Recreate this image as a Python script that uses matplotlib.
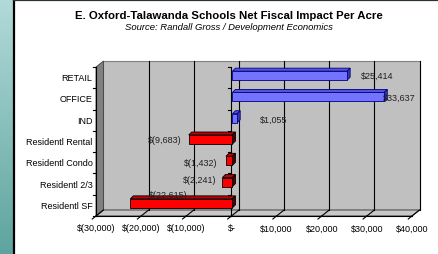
import numpy as np
import matplotlib
matplotlib.use('Agg')
import matplotlib.pyplot as plt
from matplotlib.patches import Polygon, Rectangle

# - - - - chart data - - - -
categories = ['Residentl SF', 'Residentl 2/3', 'Residentl Condo',
              'Residentl Rental', 'IND', 'OFFICE', 'RETAIL']
values = [-22615, -2241, -1432, -9683, 1055, 33637, 25414]
value_labels = ['$(22,615)', '$(2,241)', '$(1,432)', '$(9,683)',
                '$1,055', '$33,637', '$25,414']
xticks = [-30000, -20000, -10000, 0, 10000, 20000, 30000, 40000]
xtick_labels = ['$(30,000)', '$(20,000)', '$(10,000)', '$-',
                '$10,000', '$20,000', '$30,000', '$40,000']
title = 'E. Oxford-Talawanda Schools Net Fiscal Impact Per Acre'
subtitle = 'Source: Randall Gross / Development Economics'

# label offsets in pixels (Excel puts them in odd places)
label_dx = [39, -22, -24, -23, 37, 16, 31]
label_dy = [11, 5, 0, 2, 1, 2, 2]

W, H = 438, 255
font = 'Liberation Sans'


def main():
    fig = plt.figure(figsize=(W/100, H/100), dpi=100)
    fig.patch.set_facecolor('white')

    # left teal strip and frame lines
    strip = fig.add_axes([0, 0, 12.5/W, 1])
    grad = np.linspace(0, 1, 256).reshape(-1, 1)
    strip.imshow(grad, aspect='auto', extent=[0, 1, 0, 1],
                 cmap=matplotlib.colors.LinearSegmentedColormap.from_list(
                     'teal', ['#5ea49e', '#b2dada']), origin='lower')
    strip.axis('off')
    fig.add_artist(plt.Line2D([13.5/W, 13.5/W], [0, 1], color='black',
                              lw=1.6, transform=fig.transFigure))
    fig.add_artist(plt.Line2D([13.5/W, 1], [1-0.8/H, 1-0.8/H],
                              color='#2a3434', lw=1.6,
                              transform=fig.transFigure))

    # front plane of the 3D box
    x0, x1, ytop, ybot = 96, 412, 68, 217
    ax = fig.add_axes([x0/W, 1-ybot/H, (x1-x0)/W, (ybot-ytop)/H])
    xmin, xmax = xticks[0], xticks[-1]
    ax.set_xlim(xmin, xmax)
    ax.set_ylim(-0.5, len(categories)-0.5)
    ax.axis('off')

    pxx = (xmax-xmin)/(x1-x0)          # dollars per pixel
    pxy = len(categories)/(ybot-ytop)  # category units per pixel
    ddx, ddy = 7.5*pxx, 6*pxy          # depth of the box
    lo, hi = -0.5, len(categories)-0.5

    # back wall, left wall, floor
    ax.add_patch(Rectangle((xmin+ddx, lo+ddy), xmax-xmin, hi-lo,
                           fc='#c0c0c0', ec='#808080', lw=0.8,
                           clip_on=False, zorder=1))
    ax.add_patch(Polygon([(xmin, lo), (xmin+ddx, lo+ddy), (xmin+ddx, hi+ddy),
                          (xmin, hi)], closed=True, fc='#808080',
                         ec='#404040', lw=0.6, clip_on=False, zorder=2))
    ax.add_patch(Polygon([(xmin, lo), (xmax, lo), (xmax+ddx, lo+ddy),
                          (xmin+ddx, lo+ddy)], closed=True, fc='#c8c8c8',
                         ec='#505050', lw=0.8, clip_on=False, zorder=2))

    # gridlines on back wall and floor, ticks under the floor
    for t in xticks[1:]:
        ax.plot([t+ddx, t+ddx], [lo+ddy, hi+ddy], color='black', lw=0.8,
                clip_on=False, zorder=3)
    for t in xticks:
        ax.plot([t, t+ddx], [lo, lo+ddy], color='black', lw=0.8,
                clip_on=False, zorder=3)
        ax.plot([t, t-0.5*ddx], [lo, lo-0.5*ddy], color='black', lw=0.8,
                clip_on=False, zorder=3)
    ax.plot([xmin, xmax], [lo, lo], color='black', lw=0.8, clip_on=False,
            zorder=3)

    # category axes: left edge and zero line with ticks
    for xa in [xmin, 0]:
        ax.plot([xa, xa], [lo, hi], color='black', lw=0.8, clip_on=False,
                zorder=3)
        for b in np.arange(lo, hi+0.01, 1):
            ax.plot([xa-3*pxx, xa], [b, b], color='black', lw=0.8,
                    clip_on=False, zorder=3)

    # the 3D bars
    bh = 9*pxy
    bx, by = 1*pxx, 2*pxy
    dx, dy = 3*pxx, 3*pxy
    for i, v in enumerate(values):
        if v >= 0:
            fc, top, side, ec = '#7373ff', '#5454d8', '#3a3aa8', '#000080'
        else:
            fc, top, side, ec = '#ff0000', '#c00000', '#500000', 'black'
        left, right = min(0, v)+bx, max(0, v)+bx
        yb, yt = i-bh/2+by, i+bh/2+by
        ax.add_patch(Polygon([(left, yt), (right, yt), (right+dx, yt+dy),
                              (left+dx, yt+dy)], closed=True, fc=top, ec=ec,
                             lw=0.6, clip_on=False, zorder=5))
        ax.add_patch(Polygon([(right, yb), (right, yt), (right+dx, yt+dy),
                              (right+dx, yb+dy)], closed=True, fc=side,
                             ec=ec, lw=0.6, clip_on=False, zorder=5))
        ax.add_patch(Rectangle((left, yb), right-left, bh, fc=fc, ec=ec,
                               lw=0.6, clip_on=False, zorder=6))
        ax.annotate(value_labels[i], xy=(v, i), xytext=(label_dx[i],
                    label_dy[i]), textcoords='offset pixels', ha='center',
                    va='center', fontsize=6.5, family=font, color='#202020',
                    zorder=7, annotation_clip=False)

    # category labels and x tick labels
    for i, c in enumerate(categories):
        ax.text(xmin-3.5*pxx, i, c, ha='right', va='center', fontsize=6.5,
                family=font, color='black')
    for t, lab in zip(xticks, xtick_labels):
        ax.text(t, lo-12*pxy, lab, ha='center', va='center', fontsize=6.5,
                family=font, color='black')

    fig.text(229/W, 1-16/H, title, ha='center', va='center', fontsize=8.2,
             fontweight='bold', family=font)
    fig.text(229/W, 1-28/H, subtitle, ha='center', va='center', fontsize=6.8,
             style='italic', family=font)

    fig.savefig('out.png', dpi=100, facecolor='white')


if __name__ == '__main__':
    main()
